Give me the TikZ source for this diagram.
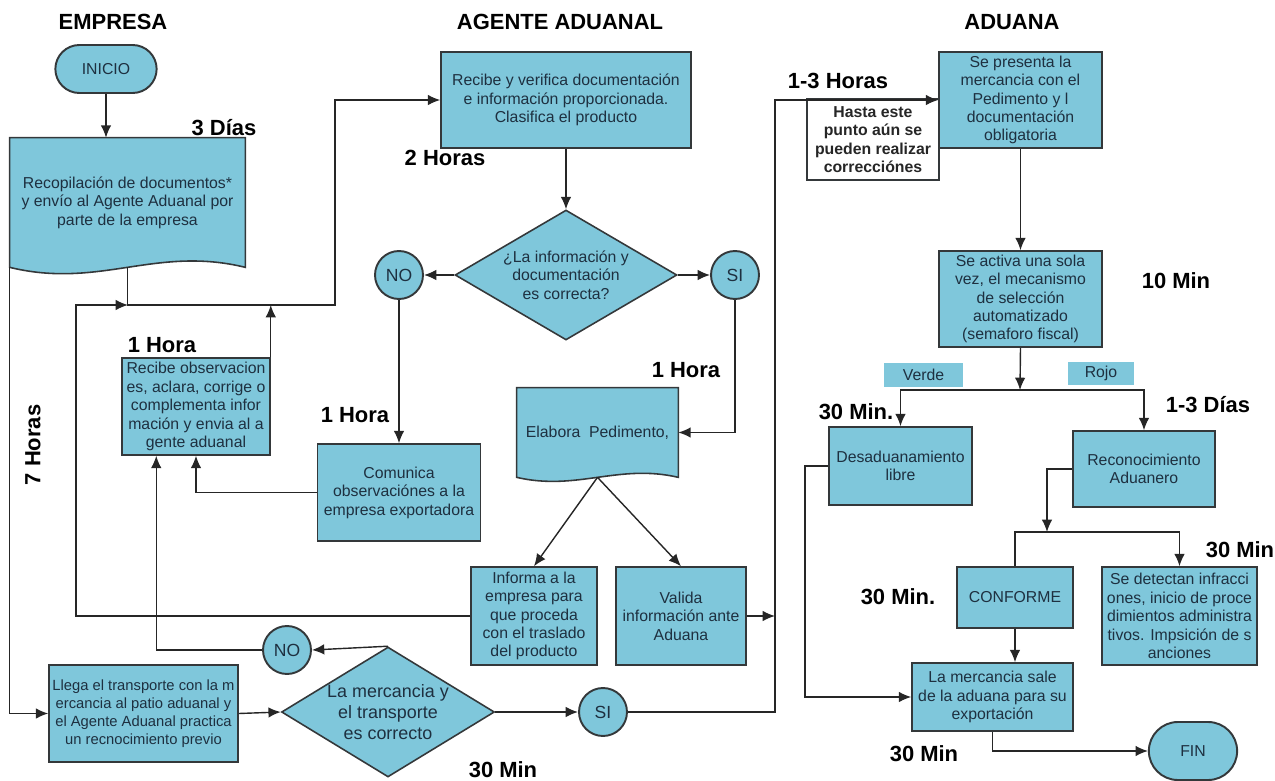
\documentclass[tikz,border=0pt]{standalone}
\usepackage{fontspec}
\setmainfont{Liberation Sans}
\usetikzlibrary{shapes.geometric, shapes.misc, arrows.meta, calc, backgrounds}

\definecolor{cajaazul}{RGB}{127,199,219}
\definecolor{textoazul}{RGB}{30,48,64}
\definecolor{borde}{RGB}{52,56,58}

% wavy bottom of a document box: node, dx, dy
\newcommand{\ondadoc}[3]{%
  \begin{scope}[on background layer]
    \filldraw[fill=cajaazul, draw=borde, line width=0.9pt]
      (#1.south west) -- (#1.north west) -- (#1.north east) -- (#1.south east)
      .. controls +(-#2,-#3) and +(#2,#3) .. (#1.south west) -- cycle;
  \end{scope}}

\begin{document}
\begin{tikzpicture}[x=0.02cm, y=-0.02cm, >={Latex[length=7pt,width=6pt]}]
        % Setup the styles for the boxes
        \tikzset{caja/.style={rectangle, draw=borde, fill=cajaazul, line width=0.9pt,
                              text=textoazul, align=center, inner sep=1pt,
                              font=\fontsize{9}{10.5}\selectfont},
                 docu/.style={rectangle, text=textoazul, align=center, inner sep=1pt,
                              font=\fontsize{9}{10.5}\selectfont},
                 termino/.style={rounded rectangle, draw=borde, fill=cajaazul, line width=1.1pt,
                              text=textoazul, font=\fontsize{9}{10.5}\selectfont},
                 decision/.style={diamond, draw=borde, fill=cajaazul, line width=0.9pt, inner sep=0pt},
                 conector/.style={circle, draw=borde, fill=cajaazul, line width=1.1pt,
                              minimum size=0.96cm, inner sep=0pt, text=textoazul,
                              font=\fontsize{10}{12}\selectfont},
                 nota/.style={rectangle, draw=borde, fill=white, line width=0.9pt, align=center,
                              text=black!85, font=\bfseries\fontsize{9}{10.4}\selectfont},
                 etiqueta/.style={rectangle, fill=cajaazul, text=textoazul, inner sep=0pt,
                              font=\fontsize{9}{10.5}\selectfont},
                 rotulo/.style={font=\bfseries\fontsize{12.5}{14}\selectfont},
                 linea/.style={draw=black!85, line width=0.8pt},
                 flecha/.style={linea, ->}}

        \useasboundingbox (0, 0) rectangle (1275, 781);

        % Draw the column titles
        \node[rotulo] at (113, 22)  (empresa) {EMPRESA};
        \node[rotulo] at (560, 22)  (agente)  {AGENTE ADUANAL};
        \node[rotulo] at (1012, 22) (aduana)  {ADUANA};

        % Draw the boxes of the company
        \node[termino, minimum width=2.26cm, minimum height=0.96cm] at (106, 69) (inicio) {INICIO};
        \node[docu, minimum width=4.7cm, minimum height=2.58cm] at (127.5, 202.5) (recop)
            {Recopilación de documentos*\\ y envío al Agente Aduanal por\\ parte de la empresa};
        \ondadoc{recop}{90}{22}
        \node[caja, minimum width=2.96cm, minimum height=1.94cm] at (196, 406.5) (observ)
            {Recibe observacion\\ es, aclara, corrige o\\ complementa infor\\ mación y envia al a\\ gente aduanal};
        \node[caja, minimum width=3.78cm, minimum height=1.94cm, font=\fontsize{8.4}{10.3}\selectfont]
            at (143.5, 713.5) (llega)
            {Llega el transporte con la m\\ ercancia al patio aduanal y\\ el Agente Aduanal practica\\ un recnocimiento previo};

        % Draw the boxes of the customs agent
        \node[caja, minimum width=5cm, minimum height=1.92cm] at (566, 100) (recibe)
            {Recibe y verifica documentación\\ e información proporcionada.\\ Clasifica el producto};
        \node[decision, minimum width=4.44cm, minimum height=2.6cm,
              label={[text=textoazul, align=center, font=\fontsize{9}{10.5}\selectfont]center:{¿La información y\\ documentación\\ es correcta?}}]
            at (566, 275) (correcta) {};
        \node[conector] at (399, 275) (no1) {NO};
        \node[conector] at (735, 275) (si1) {SI};
        \node[caja, minimum width=3.26cm, minimum height=1.94cm] at (399, 492.5) (comunica)
            {Comunica\\ observaciónes a la\\ empresa exportadora};
        \node[docu, minimum width=3.22cm, minimum height=1.78cm] at (597.5, 432.5) (elabora)
            {Elabora~ Pedimento,};
        \ondadoc{elabora}{60}{14}
        \node[caja, minimum width=2.52cm, minimum height=1.96cm] at (534, 616) (informa)
            {Informa a la\\ empresa para\\ que proceda\\ con el traslado\\ del producto};
        \node[caja, minimum width=2.6cm, minimum height=1.96cm] at (681, 616) (valida)
            {Valida\\ información ante\\ Aduana};
        \node[decision, minimum width=4.26cm, minimum height=2.6cm,
              label={[text=textoazul, align=center, font=\fontsize{10.2}{12}\selectfont]center:{La mercancia y\\ el transporte\\ es correcto}}]
            at (388, 712) (transporte) {};
        \node[conector] at (287, 650) (no2) {NO};
        \node[conector] at (603, 712) (si2) {SI};

        % Draw the boxes of customs
        \node[caja, minimum width=3.26cm, minimum height=1.92cm] at (1020.5, 100) (presenta)
            {Se presenta la\\ mercancia con el\\ Pedimento y l\\ documentación\\ obligatoria};
        \node[nota, minimum width=2.64cm, minimum height=1.62cm] at (873, 139.5) (hasta)
            {Hasta este\\ punto aún se\\ pueden realizar\\ correcciónes};
        \node[caja, minimum width=3.26cm, minimum height=1.92cm] at (1020.5, 299) (activa)
            {Se activa una sola\\ vez, el mecanismo\\ de selección\\ automatizado\\ (semaforo fiscal)};
        \node[etiqueta, minimum width=1.58cm, minimum height=0.48cm] at (923.5, 375) (verde) {Verde};
        \node[etiqueta, minimum width=1.32cm, minimum height=0.46cm] at (1101, 373) (rojo) {Rojo};
        \node[caja, minimum width=2.86cm, minimum height=1.56cm] at (900.5, 466) (desadu)
            {Desaduanamiento\\ libre};
        \node[caja, minimum width=2.84cm, minimum height=1.52cm] at (1144, 469) (reconoc)
            {Reconocimiento\\ Aduanero};
        \node[caja, minimum width=2.32cm, minimum height=1.22cm] at (1015, 597.5) (conforme) {CONFORME};
        \node[caja, minimum width=3.1cm, minimum height=1.96cm] at (1179.5, 616) (detectan)
            {Se detectan infracci\\ ones, inicio de proce\\ dimientos administra\\ tivos. Impsición de s\\ anciones};
        \node[caja, minimum width=3.22cm, minimum height=1.36cm] at (992.5, 697) (sale)
            {La mercancia sale\\ de la aduana para su\\ exportación};
        \node[termino, minimum width=2cm, minimum height=1.16cm] at (1193, 751) (fin) {FIN};

        % Draw the times
        \node[rotulo] at (224, 128)  (tdias)    {3 Días};
        \node[rotulo] at (445, 158)  (thoras)   {2 Horas};
        \node[rotulo] at (162, 345)  (thoraA)   {1 Hora};
        \node[rotulo] at (355, 415)  (thoraB)   {1 Hora};
        \node[rotulo] at (686, 370)  (thoraC)   {1 Hora};
        \node[rotulo, rotate=90] at (33, 445) (tsiete) {7 Horas};
        \node[rotulo] at (503, 770)  (tminA)    {30 Min};
        \node[rotulo] at (838, 81)   (tunotres) {1-3 Horas};
        \node[rotulo] at (1176, 281) (tdiez)    {10 Min};
        \node[rotulo] at (856, 412)  (tminB)    {30 Min.};
        \node[rotulo] at (1208, 405) (tdiasB)   {1-3 Días};
        \node[rotulo] at (1240, 550) (tminC)    {30 Min};
        \node[rotulo] at (898, 597)  (tminD)    {30 Min.};
        \node[rotulo] at (924, 754)  (tminE)    {30 Min};

        % Bends and joints of the lines
        \coordinate (unionA) at (128, 305);
        \coordinate (codoA)  at (335, 305);
        \coordinate (codoB)  at (76, 305);
        \coordinate (codoC)  at (775, 712);
        \coordinate (unionB) at (1020, 390);
        \coordinate (unionC) at (1047, 532);
        \coordinate (codoD)  at (805, 697);

        % Connect the boxes with arrows
        \path
            (inicio.south)     edge[flecha] (inicio.south |- recop.north)
            (recibe.south)     edge[flecha] (correcta.north)
            (correcta.west)    edge[flecha] (no1.east)
            (correcta.east)    edge[flecha] (si1.west)
            (no1.south)        edge[flecha] (comunica.north)
            (elabora.south)    edge[flecha] (informa.north)
            (elabora.south)    edge[flecha] (valida.north)
            (llega.east)       edge[flecha] (transporte.west)
            (transporte.north) edge[flecha] (no2.east)
            (transporte.east)  edge[flecha] (si2.west)
            (presenta.south)   edge[flecha] (activa.north)
            (activa.south)     edge[flecha] (unionB)
            (conforme.south)   edge[flecha] (conforme.south |- sale.north);
        \draw[flecha] (recop.south) |- (codoA) |- (recibe.west);
        \draw[flecha] (observ.north east) -- (observ.north east |- codoA);
        \draw[flecha] (informa.west) -| (codoB) -- (unionA);
        \draw[flecha] (si1.south) |- (elabora.east);
        \draw[flecha] (comunica.west) -| (observ.south);
        \draw[flecha] (valida.east) -- (valida.east -| codoC);
        \draw[flecha] (recop.south west) |- (llega.west);
        \draw[flecha] (no2.west) -| ($(observ.south west)+(35, 0)$);
        \draw[flecha] (si2.east) -- (codoC) |- (presenta.west);
        \draw[flecha] (unionB) -| (desadu.north);
        \draw[flecha] (unionB) -| (reconoc.north);
        \draw[flecha] (reconoc.west) -| (unionC);
        \draw[linea] (unionC) -| (conforme.north);
        \draw[flecha] (unionC) -| (detectan.north);
        \draw[flecha] (desadu.west) -| (codoD) -- (sale.west);
        \draw[flecha] (sale.south) |- (fin.west);
\end{tikzpicture}
\end{document}
